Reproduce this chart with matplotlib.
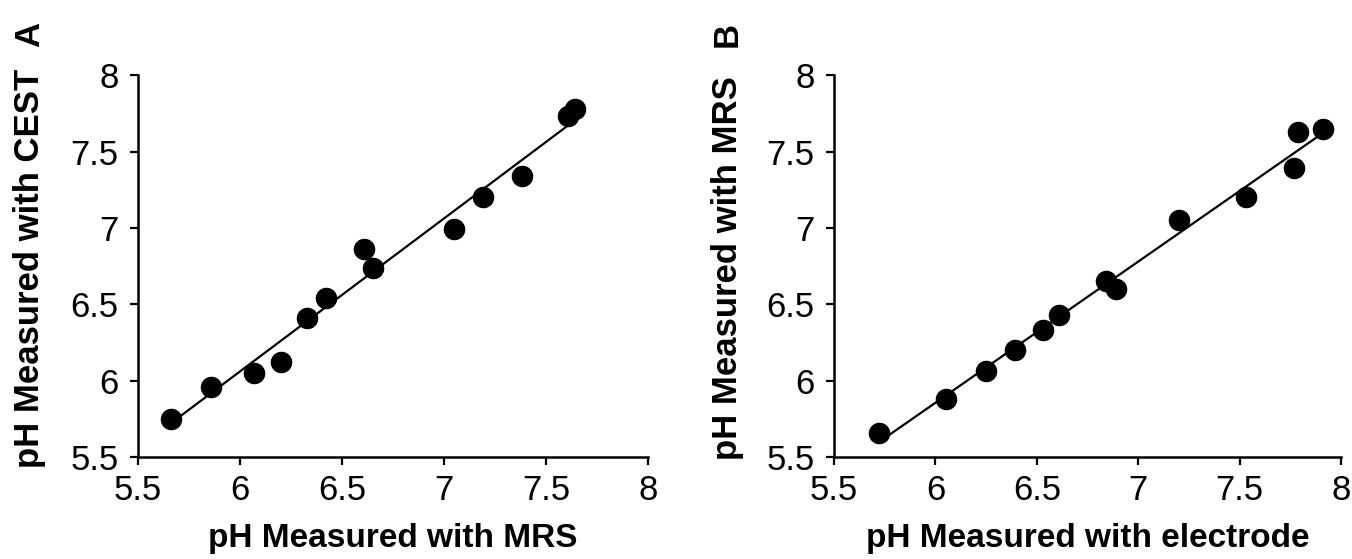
import matplotlib
matplotlib.use("Agg")
import matplotlib.pyplot as plt
import numpy as np

plt.rcParams['font.family'] = ['Liberation Sans', 'DejaVu Sans']

# panel A: MRS vs CEST
mrs_a = [5.66, 5.86, 6.07, 6.20, 6.33, 6.42, 6.61, 6.65, 7.05, 7.19, 7.38, 7.61, 7.64]
cest_a = [5.75, 5.96, 6.05, 6.12, 6.41, 6.54, 6.86, 6.74, 6.99, 7.20, 7.34, 7.73, 7.78]

# panel B: electrode vs MRS
elec_b = [5.72, 6.05, 6.25, 6.39, 6.53, 6.61, 6.84, 6.89, 7.20, 7.53, 7.77, 7.79, 7.91]
mrs_b = [5.66, 5.88, 6.06, 6.20, 6.33, 6.43, 6.65, 6.60, 7.05, 7.20, 7.39, 7.63, 7.65]

ticks = [5.5, 6, 6.5, 7, 7.5, 8]
tick_labels = ["5.5", "6", "6.5", "7", "7.5", "8"]

fig = plt.figure(figsize=(13.52, 5.59), dpi=100)
ax1 = fig.add_axes([0.1021, 0.1825, 0.3772, 0.683])
ax2 = fig.add_axes([0.6169, 0.1825, 0.375, 0.683])

panels = [
    (ax1, mrs_a, cest_a, "pH Measured with MRS", "pH Measured with CEST"),
    (ax2, elec_b, mrs_b, "pH Measured with electrode", "pH Measured with MRS"),
]

for ax, x, y, xl, yl in panels:
    x = np.array(x)
    y = np.array(y)
    k, b = np.polyfit(x, y, 1)
    xs = np.array([x.min(), x.max()])
    ax.plot(xs, k * xs + b, color="black", lw=1.6, zorder=2)
    ax.scatter(x, y, s=210, color="black", zorder=3, clip_on=False)
    ax.set_xlim(5.5, 8)
    ax.set_ylim(5.5, 8)
    ax.set_xticks(ticks)
    ax.set_yticks(ticks)
    ax.set_xticklabels(tick_labels)
    ax.set_yticklabels(tick_labels)
    ax.spines['top'].set_visible(False)
    ax.spines['right'].set_visible(False)
    ax.spines['left'].set_linewidth(1.8)
    ax.spines['bottom'].set_linewidth(1.8)
    ax.tick_params(direction="out", length=6, width=1.6, labelsize=25, colors="black")
    ax.tick_params(axis="x", pad=6)
    ax.tick_params(axis="y", pad=8)
    ax.set_xlabel(xl, fontsize=24, fontweight="bold")
    ax.set_ylabel(yl, fontsize=25, fontweight="bold")
    ax.xaxis.set_label_coords(0.5, -0.174)

ax1.yaxis.set_label_coords(-0.18, 0.495)
ax2.yaxis.set_label_coords(-0.178, 0.495)
fig.text(30 / 1352, 1 - 34 / 559, "A", fontsize=25, fontweight="bold",
         rotation=90, ha="center", va="center")
fig.text(727 / 1352, 1 - 34 / 559, "B", fontsize=25, fontweight="bold",
         rotation=90, ha="center", va="center")

fig.savefig("out.png", dpi=100)
